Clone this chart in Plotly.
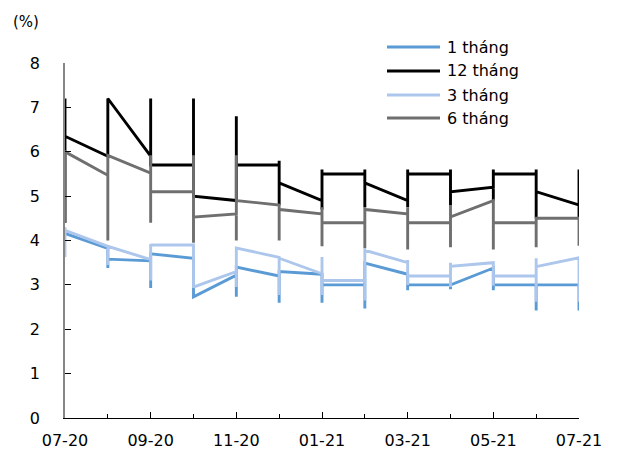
import plotly.graph_objects as go

# Month categories (x positions are month indices 0..12)
months = ["07-20", "08-20", "09-20", "10-20", "11-20", "12-20", "01-21",
          "02-21", "03-21", "04-21", "05-21", "06-21", "07-21"]
tick_labels = ["07-20", "09-20", "11-20", "01-21", "03-21", "05-21", "07-21"]

# Observed rates within each month (sequence of values per month), in %
rate_1m = [
    [4.16], [3.82, 3.38, 3.58], [3.54, 2.93, 3.7], [3.6, 2.73], [3.22, 2.73, 3.4],
    [3.2, 2.6, 3.3], [3.24, 2.6, 3.0], [3.0, 2.47, 3.49], [3.24, 2.88, 3.0],
    [3.0, 2.9, 3.0], [3.38, 2.88, 3.0], [3.0, 2.42, 3.0], [3.0, 2.42],
]
rate_12m = [
    [4.4, 7.2, 6.35], [5.9, 7.2], [5.9, 7.2, 5.7], [5.7, 7.2, 5.0], [4.9, 6.8, 5.7],
    [5.7, 5.8, 4.8, 5.3], [4.9, 5.6, 4.7, 5.5], [5.5, 5.6, 4.75, 5.3],
    [4.9, 5.6, 4.75, 5.5], [5.5, 5.6, 4.8, 5.1], [5.2, 5.6, 4.9, 5.5],
    [5.5, 5.6, 4.5, 5.1], [4.8, 5.6, 4.5],
]
rate_3m = [
    [3.63, 4.3, 4.23], [3.87, 3.45, 3.87], [3.57, 3.1, 3.92, 3.9], [3.9, 2.93, 2.95],
    [3.3, 3.83, 2.95, 3.83], [3.62, 2.77, 3.6], [3.25, 3.63, 2.77, 3.1],
    [3.1, 3.83, 2.65, 3.78], [3.5, 3.56, 3.0, 3.2], [3.2, 3.5, 2.95, 3.42],
    [3.5, 2.98, 3.2], [3.2, 3.6, 2.62, 3.41], [3.61, 2.62],
]
rate_6m = [
    [4.4, 6.0], [5.47, 4.0, 5.92], [5.52, 5.92, 4.4, 5.1], [5.1, 5.92, 3.95, 4.53],
    [4.6, 5.92, 4.0, 4.9], [4.8, 4.0, 4.7], [4.6, 4.75, 3.87, 4.4],
    [4.4, 4.75, 3.83, 4.7], [4.6, 4.75, 3.8, 4.4], [4.4, 4.8, 3.85, 4.53],
    [4.9, 3.8, 4.4], [4.4, 4.5, 3.85, 4.5], [4.5, 3.88],
]

series_names = ["1 tháng", "12 tháng", "3 tháng", "6 tháng"]
series_data = [rate_1m, rate_12m, rate_3m, rate_6m]
series_colors = ["#5B9BD5", "#000000", "#ADC6EC", "#6F6F6F"]

FONT = "DejaVu Sans"
LW = 2.9


def flatten(per_month):
    xs, ys = [], []
    for i, vals in enumerate(per_month):
        for v in vals:
            xs.append(i)
            ys.append(v)
    return xs, ys


fig = go.Figure()
for name, data, col in zip(series_names, series_data, series_colors):
    xs, ys = flatten(data)
    fig.add_trace(go.Scatter(x=xs, y=ys, mode="lines", name=name,
                             line=dict(color=col, width=LW),
                             showlegend=False))

# Manual legend (line sample + label) in paper coordinates
L, R, T, B = 65, 579, 63, 418
W, H = R - L, B - T
legend_y_px = [47, 71, 95, 118]
for name, col, ypx in zip(series_names, series_colors, legend_y_px):
    yp = (B - ypx) / H
    fig.add_shape(type="line", xref="paper", yref="paper",
                  x0=(387 - L) / W, x1=(440 - L) / W, y0=yp, y1=yp,
                  line=dict(color=col, width=LW))
    fig.add_annotation(xref="paper", yref="paper", x=(445 - L) / W, y=yp,
                       text=name, showarrow=False, xanchor="left", yanchor="middle",
                       font=dict(family=FONT, size=16, color="#000000"))

fig.add_annotation(xref="paper", yref="paper", x=(11 - L) / W, y=(B - 22) / H,
                   text="(%)", showarrow=False, xanchor="left", yanchor="middle",
                   font=dict(family=FONT, size=15, color="#000000"))

fig.update_layout(
    width=632, height=457,
    margin=dict(l=L, r=632 - R, t=T, b=457 - B),
    paper_bgcolor="white", plot_bgcolor="white",
    font=dict(family=FONT, size=16, color="#000000"),
    xaxis=dict(range=[0, 12], showgrid=False, zeroline=False, automargin=False,
               showline=True, linecolor="#000000", linewidth=1.3,
               ticks="inside", ticklen=6, tickcolor="#000000", tickwidth=1.3,
               tickvals=list(range(0, 13, 2)), ticktext=tick_labels,
               ticklabelstandoff=8,
               minor=dict(ticks="inside", tickvals=list(range(1, 12, 2)),
                          ticklen=4, tickcolor="#000000", tickwidth=1.3)),
    yaxis=dict(range=[0, 8], showgrid=False, zeroline=False, automargin=False,
               showline=True, linecolor="#868686", linewidth=1.5,
               ticks="inside", ticklen=6, tickcolor="#000000", tickwidth=1.3,
               tickvals=list(range(0, 9)), ticklabelstandoff=20),
)

fig.write_html("out.html")
